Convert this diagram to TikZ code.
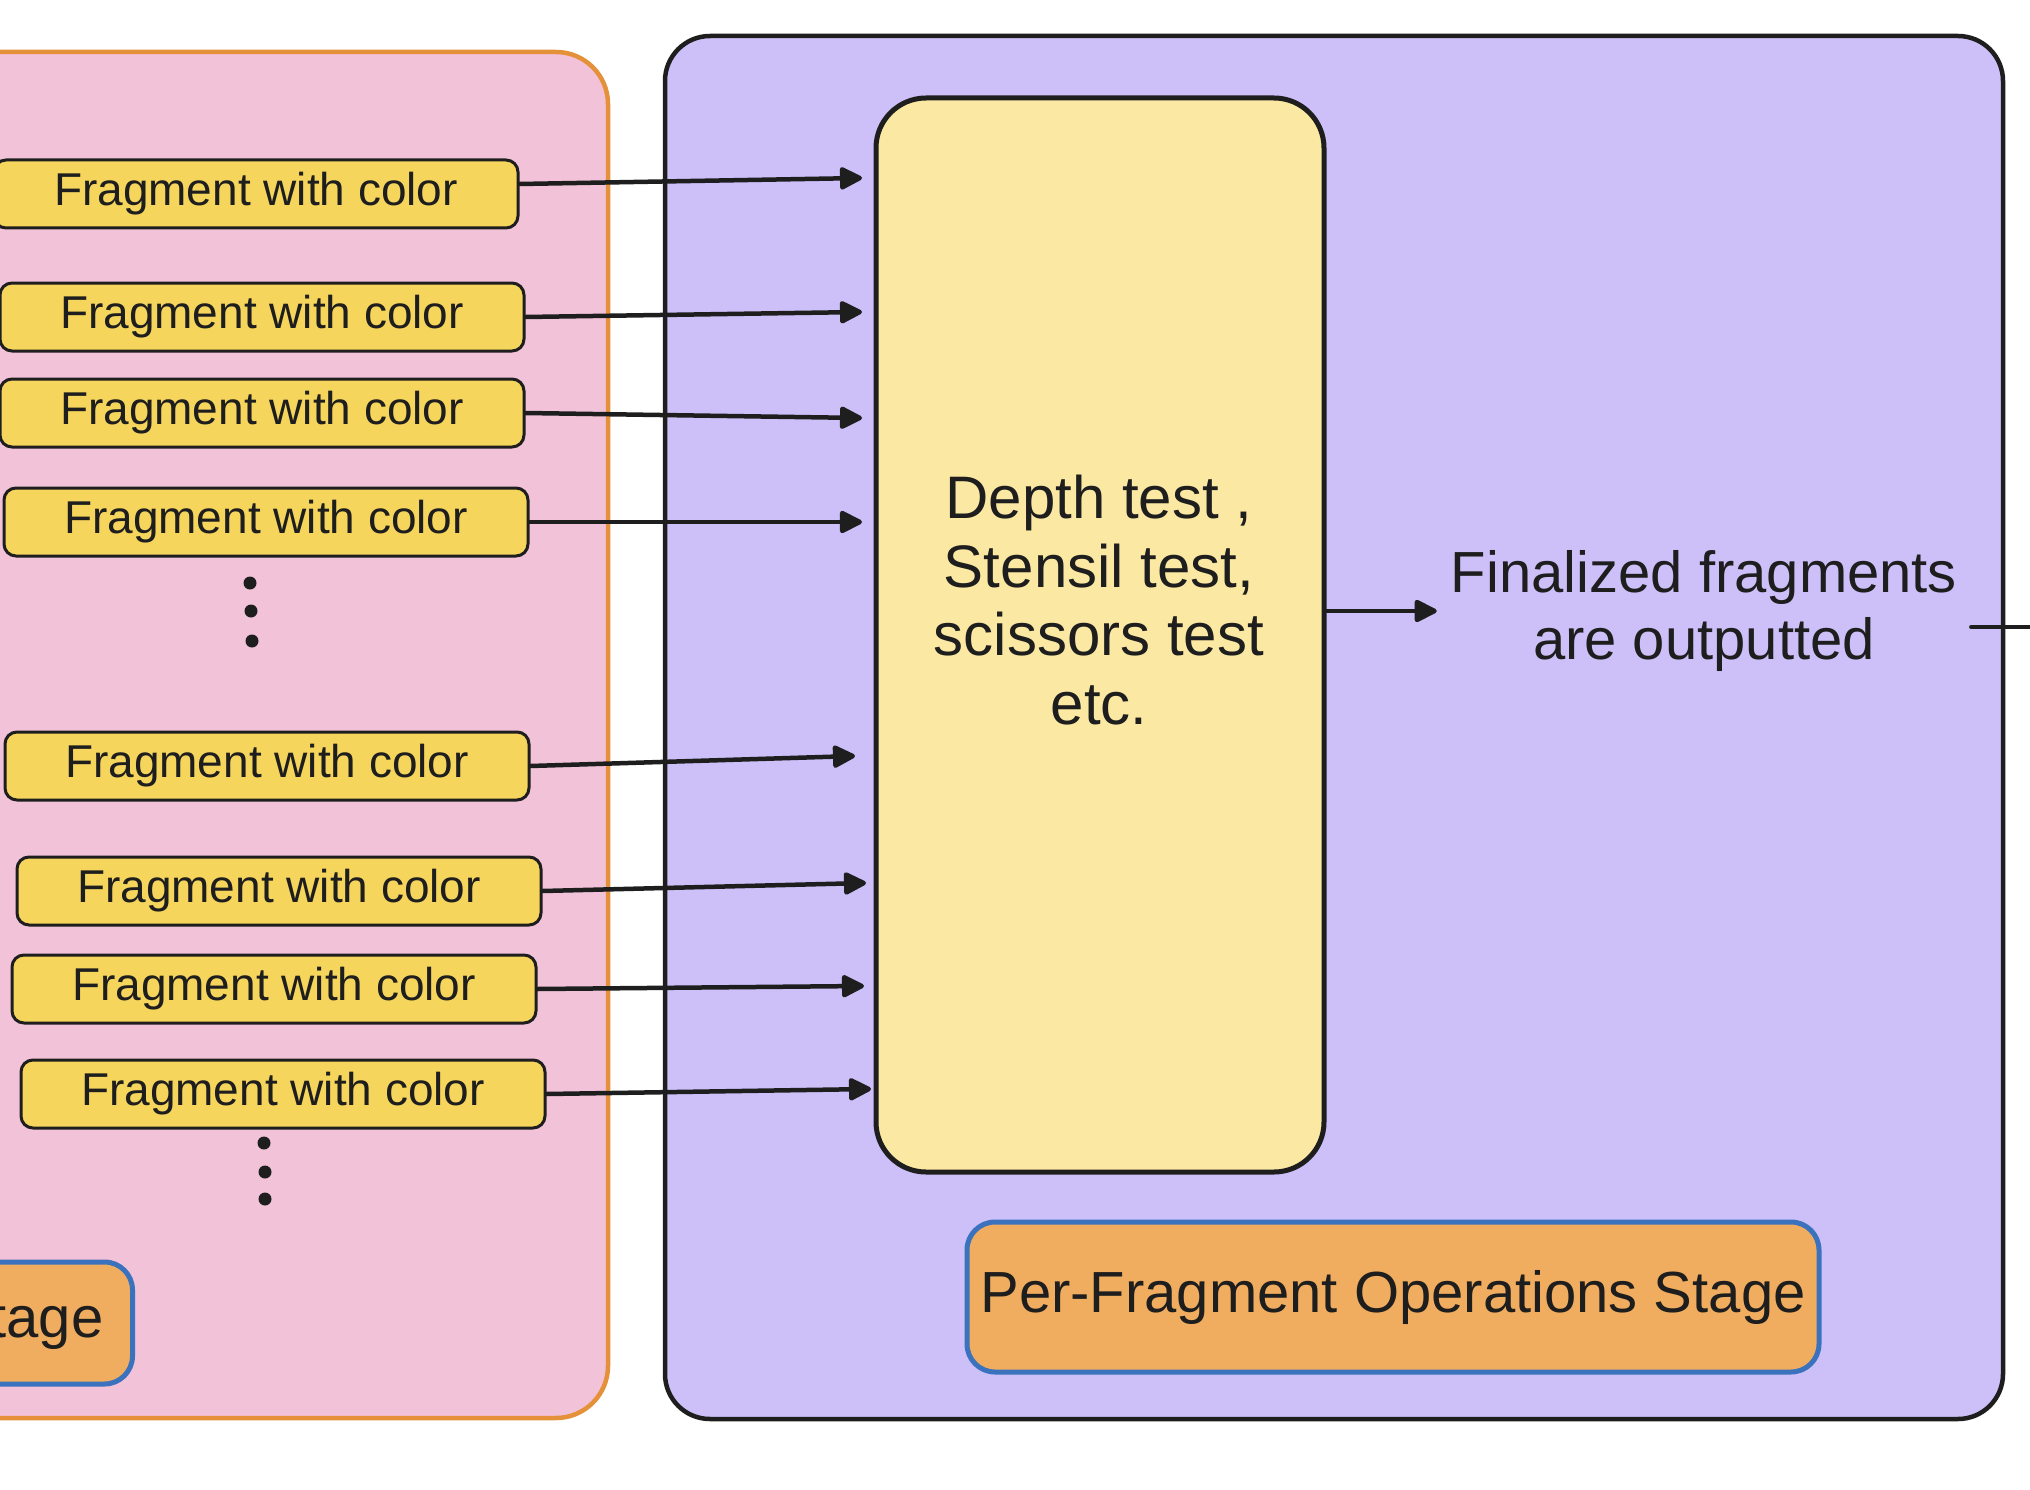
\documentclass[tikz,border=0pt]{standalone}
\usepackage{fontspec}
\setmainfont{Liberation Sans}
\usetikzlibrary{arrows.meta,calc}
\definecolor{ink}{HTML}{1E1E1E}
\definecolor{pinkF}{HTML}{F2C2D8}
\definecolor{pinkB}{HTML}{E4913A}
\definecolor{purF}{HTML}{CDC0F9}
\definecolor{depY}{HTML}{FBE9A3}
\definecolor{fragY}{HTML}{F6D55C}
\definecolor{stageO}{HTML}{F0AD5F}
\definecolor{stageB}{HTML}{3B72BD}
\begin{document}
\begin{tikzpicture}[x=1pt,y=-1pt,
  panel/.style={line width=4.5pt, inner sep=0pt},
  frag/.style={draw=ink, line width=3pt, fill=fragY, rounded corners=12pt,
    minimum width=524pt, minimum height=68pt, inner sep=0pt,
    font=\fontsize{46}{52}\selectfont, text=ink},
  arr/.style={draw=ink, line width=4.5pt, line cap=round,
    -{Triangle[length=25pt,width=24pt,round]}},
  dotnode/.style={circle, fill=ink, inner sep=0pt, minimum size=13pt},
  bigtext/.style={font=\fontsize{60}{68.6}\selectfont, text=ink, align=center},
  stagebox/.style={draw=stageB, fill=stageO, line width=5pt, rounded corners=28pt,
    font=\fontsize{58}{68}\selectfont, text=ink, inner sep=0pt},
]
\useasboundingbox (0,0) rectangle (2030,1490);
\fill[white] (0,0) rectangle (2030,1490);

% panels
\node[panel, draw=pinkB, fill=pinkF, rounded corners=52pt,
  minimum width=708pt, minimum height=1366pt] (pink) at (254,735) {};
\node[panel, draw=ink, fill=purF, rounded corners=45pt,
  minimum width=1338pt, minimum height=1383pt] (purple) at (1334,727.5) {};

% previous stage (clipped at left edge)
\node[stagebox, anchor=east, minimum height=122pt, text width=440pt,
  align=right, inner xsep=29pt] (prev) at (135,1323) {Stage};

% fragment boxes
\node[frag] (f1) at (256,194) {Fragment with color};
\node[frag] (f2) at (262,317) {Fragment with color};
\node[frag] (f3) at (262,413) {Fragment with color};
\node[frag] (f4) at (266,522) {Fragment with color};
\node[frag] (f5) at (267,766) {Fragment with color};
\node[frag] (f6) at (279,891) {Fragment with color};
\node[frag] (f7) at (274,989) {Fragment with color};
\node[frag] (f8) at (283,1094) {Fragment with color};

% dots
\node[dotnode] (d1) at (250,583) {};
\node[dotnode] (d2) at (251,611) {};
\node[dotnode] (d3) at (252,641) {};
\node[dotnode] (d4) at (264,1143) {};
\node[dotnode] (d5) at (265,1172) {};
\node[dotnode] (d6) at (265,1199) {};

% depth test box
\node[draw=ink, line width=5pt, fill=depY, rounded corners=50pt,
  minimum width=448pt, minimum height=1074pt, inner sep=0pt] (dep) at (1100,635) {};
\node[bigtext] (deptext) at (1099,600) {Depth test ,\\Stensil test,\\scissors test\\etc.};

% finalized text
\node[bigtext, font=\fontsize{58}{67}\selectfont, inner xsep=14pt] (fin) at (1704,611) {Finalized fragments\\are outputted};

% per-fragment stage label
\node[stagebox, minimum width=852pt, minimum height=150pt] (pfo) at (1393,1297)
  {Per-Fragment Operations Stage};

% arrow targets
\coordinate (t1) at (862,178);
\coordinate (t2) at (862,312);
\coordinate (t3) at (862,418);
\coordinate (t4) at (862,522);
\coordinate (t5) at (855,756);
\coordinate (t6) at (866,883);
\coordinate (t7) at (864,986);
\coordinate (t8) at (871,1089);
\coordinate (out) at (2040,627);

\draw[arr] ($(f1.east)+(0,-10)$) -- (t1);
\draw[arr] (f2.east) -- (t2);
\draw[arr] (f3.east) -- (t3);
\draw[arr] (f4.east) -- (t4);
\draw[arr] (f5.east) -- (t5);
\draw[arr] (f6.east) -- (t6);
\draw[arr] (f7.east) -- (t7);
\draw[arr] (f8.east) -- (t8);

\draw[arr] (dep.east |- fin.west) -- (fin.west);
\draw[ink, line width=4.5pt, line cap=round] (fin.east |- out) -- (out);
\end{tikzpicture}
\end{document}
